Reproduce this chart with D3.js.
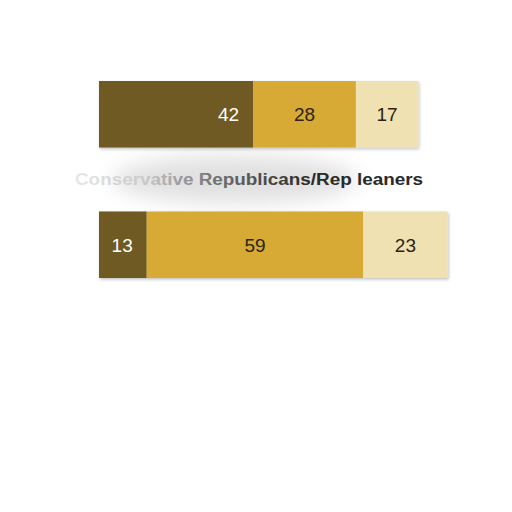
<!DOCTYPE html>
<html>
<head>
<meta charset="utf-8">
<script src="https://cdn.jsdelivr.net/npm/d3@7"></script>
<style>
  body { margin: 0; background: #fff; }
  svg { display: block; }
</style>
</head>
<body>
<div id="chart-area"></div>
<script>
// data
let rows = ["Row 1", "Conservative Republicans/Rep leaners"];
let keys = ["first", "second", "third"];
let first = [42, 13];
let second = [28, 59];
let third = [17, 23];
let rowLabels = ["", "Conservative Republicans/Rep leaners"];

let colors = ["#6e5a21", "#d6aa35", "#f0e1b2"];
let textColors = ["#ffffff", "#2b2410", "#2b2410"];

let width = 512,
	height = 512;

let data = rows.map((r, i) => ({ row: r, first: first[i], second: second[i], third: third[i] }));

let svg = d3.select("#chart-area").append("svg")
	.attr("width", width)
	.attr("height", height);

let defs = svg.append("defs");

defs.append("filter").attr("id", "smudge")
	.attr("x", "-50%").attr("y", "-100%").attr("width", "200%").attr("height", "300%")
	.append("feGaussianBlur").attr("stdDeviation", 10);

let shadow = defs.append("filter").attr("id", "shadow")
	.attr("x", "-5%").attr("y", "-10%").attr("width", "110%").attr("height", "130%");
shadow.append("feDropShadow")
	.attr("dx", 1).attr("dy", 1.5).attr("stdDeviation", 1.5)
	.attr("flood-color", "#000").attr("flood-opacity", 0.25);

let grad = defs.append("linearGradient").attr("id", "fade")
	.attr("gradientUnits", "userSpaceOnUse")
	.attr("x1", 75).attr("x2", 310).attr("y1", 0).attr("y2", 0);
grad.append("stop").attr("offset", "0%").attr("stop-color", "#e8e8e8");
grad.append("stop").attr("offset", "30%").attr("stop-color", "#c8c8c8");
grad.append("stop").attr("offset", "60%").attr("stop-color", "#707070");
grad.append("stop").attr("offset", "100%").attr("stop-color", "#2a2a2a");

let x = d3.scaleLinear()
	.domain([0, 100])
	.range([99, 466]);

let y = d3.scaleBand()
	.domain(rows)
	.range([81, 278])
	.paddingInner(0.49);

let series = d3.stack().keys(keys)(data);

let midY = (y(rows[0]) + y.bandwidth() + y(rows[1])) / 2;

// blurred smudge behind the label
svg.append("ellipse")
	.attr("cx", 235)
	.attr("cy", midY)
	.attr("rx", 122)
	.attr("ry", 24)
	.attr("fill", "#b4b4b4")
	.attr("opacity", 0.4)
	.attr("filter", "url(#smudge)");

let groups = svg.selectAll("g.bar-row")
	.data(data)
	.enter().append("g")
	.attr("class", "bar-row")
	.attr("filter", "url(#shadow)");

groups.each(function (d, i) {
	let g = d3.select(this);
	series.forEach((s, k) => {
		let seg = s[i];
		g.append("rect")
			.attr("x", x(seg[0]))
			.attr("y", y(d.row))
			.attr("width", x(seg[1]) - x(seg[0]))
			.attr("height", y.bandwidth())
			.attr("fill", colors[k]);
	});
});

// value labels
series.forEach((s, k) => {
	svg.selectAll("text.val-" + k)
		.data(s)
		.enter().append("text")
		.attr("class", "val-" + k)
		.attr("x", seg => k === 0 ? x(seg[1]) - 14 : (x(seg[0]) + x(seg[1])) / 2)
		.attr("y", seg => y(seg.data.row) + y.bandwidth() / 2)
		.attr("dy", "0.36em")
		.attr("text-anchor", k === 0 ? "end" : "middle")
		.attr("font-family", "Liberation Sans, Arial, sans-serif")
		.attr("font-size", 19)
		.attr("fill", textColors[k])
		.text(seg => seg[1] - seg[0]);
});

// row label between the bars
svg.append("text")
	.attr("x", 75)
	.attr("y", midY)
	.attr("dy", "0.36em")
	.attr("font-family", "Liberation Sans, Arial, sans-serif")
	.attr("font-weight", "bold")
	.attr("font-size", 16)
	.attr("textLength", 348)
	.attr("lengthAdjust", "spacingAndGlyphs")
	.attr("fill", "url(#fade)")
	.text(rowLabels[1]);
</script>
</body>
</html>
